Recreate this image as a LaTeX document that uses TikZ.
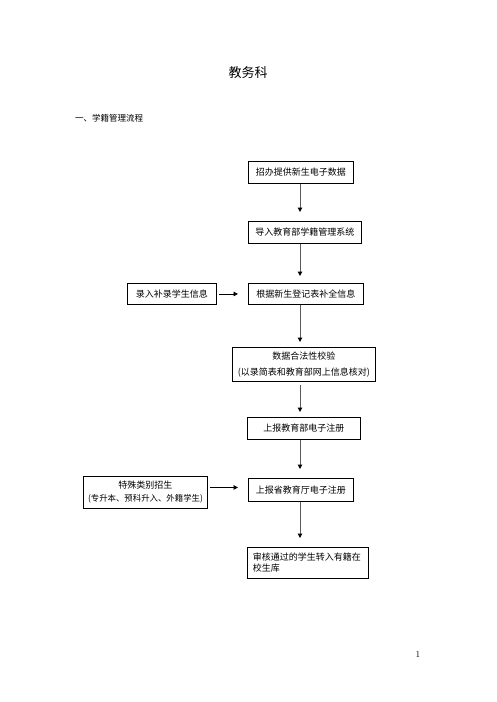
\documentclass[tikz,border=0pt]{standalone}
\usepackage{fontspec}
\newfontfamily\cjk{Noto Sans CJK SC}
\usetikzlibrary{arrows.meta}
\tikzset{
  box/.style={draw=black, line width=0.9pt, anchor=north west, inner sep=0pt,
    font=\cjk\fontsize{9}{11}\selectfont, align=center},
  varrow/.style={draw=black!65, line width=1pt, -{Triangle[length=4.5pt,width=4.5pt,color=black]}},
  harrow/.style={draw=black, line width=0.9pt, -{Triangle[length=4.5pt,width=4.5pt,color=black]}}
}
\begin{document}
\begin{tikzpicture}[x=1pt,y=-1pt]
\useasboundingbox[fill=white] (0,0) rectangle (497,702);
\node[font=\cjk\fontsize{13}{15}\selectfont] (title) at (248,73) {教务科};
\node[anchor=west, inner sep=0pt, font=\cjk\fontsize{8.5}{10}\selectfont] (head) at (75,118) {一、学籍管理流程};

\node[box, minimum width=105pt, minimum height=22pt] (b1) at (248,161) {招办提供新生电子数据};
\node[box, minimum width=113pt, minimum height=22pt] (b2) at (248,221) {导入教育部学籍管理系统};
\node[box, minimum width=115pt, minimum height=21pt] (b3) at (248,283) {根据新生登记表补全信息};
\node[box, minimum width=89pt, minimum height=21pt] (l1) at (127,283) {录入补录学生信息};
\node[box, minimum width=143pt, minimum height=34pt, font=\cjk\fontsize{9}{16}\selectfont] (b4) at (232,347) {数据合法性校验\\(以录简表和教育部网上信息核对)};
\node[box, minimum width=113pt, minimum height=22pt] (b5) at (247,417) {上报教育部电子注册};
\node[box, minimum width=105pt, minimum height=23pt] (b6) at (248,478) {上报省教育厅电子注册};
\node[box, minimum width=124pt, minimum height=32pt, font=\cjk\fontsize{9}{13}\selectfont] (l2) at (83,476) {特殊类别招生\\{\fontsize{8.4}{13}\selectfont(专升本、预科升入、外籍学生)}};
\node[box, minimum width=121pt, minimum height=31pt, text width=110pt, inner xsep=5.5pt, align=left] (b7) at (247,547) {审核通过的学生转入有籍在\\校生库};

\node[font=\fontsize{9}{10}\selectfont] (pg) at (418,654) {1};

\coordinate (ax) at (300,0);
\draw[varrow] (b1.south -| ax) -- ([yshift=9pt]b2.north -| ax);
\draw[varrow] (b2.south -| ax) -- ([yshift=7pt]b3.north -| ax);
\draw[varrow] (b3.south -| ax) -- ([yshift=5pt]b4.north -| ax);
\draw[varrow] ([yshift=-3pt]b4.south -| ax) -- ([yshift=5pt]b5.north -| ax);
\draw[varrow] (b5.south -| ax) -- ([yshift=9pt]b6.north -| ax);
\draw[varrow] (b6.south -| ax) -- ([yshift=9pt]b7.north -| ax);
\draw[harrow] ([xshift=2pt]l1.east) -- ([xshift=-10pt]b3.west);
\draw[harrow] ([xshift=2pt,yshift=5pt]l2.east) -- ([xshift=-10pt,yshift=2.5pt]b6.west);
\end{tikzpicture}
\end{document}
